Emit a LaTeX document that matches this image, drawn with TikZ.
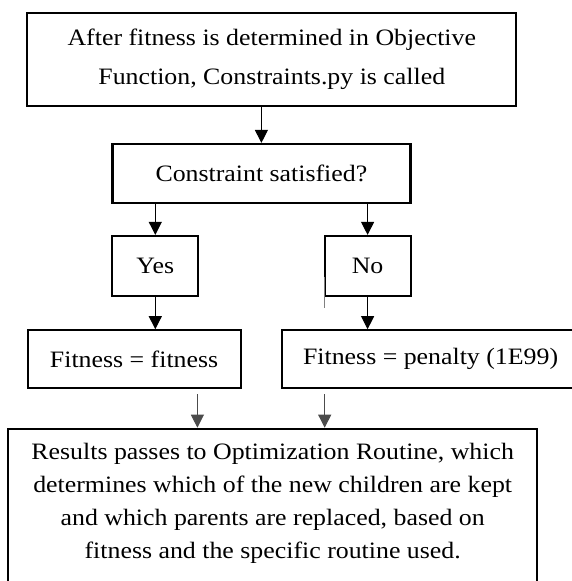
\documentclass[tikz,border=0pt]{standalone}
\usepackage{fontspec}
\setmainfont[FakeStretch=1.1]{Liberation Serif}
\usetikzlibrary{arrows.meta,positioning}
\begin{document}
\begin{tikzpicture}[x=1pt,y=-1pt,
				box/.style={rectangle,draw,line width=2.2pt,align=center,inner sep=0pt,
					font=\fontsize{23.5}{33}\selectfont},
				arr/.style={line width=1pt,-{Triangle[width=13pt,length=13pt]}}]
\useasboundingbox (0,0) rectangle (572,581);
\clip (0,0) rectangle (572,581);
\node[box,minimum width=489,minimum height=93,font=\fontsize{23.5}{39}\selectfont] (start) at (271.8,59.4)
	{After fitness is determined in Objective\\Function, Constraints.py is called};
\node[box,minimum width=298,minimum height=59] (check) at (261.4,173.5) {Constraint satisfied?};
\node[box,minimum width=86,minimum height=60] (yes) at (155.3,266) {Yes};
\node[box,minimum width=86,minimum height=60] (no) at (367.6,266) {No};
\node[box,minimum width=213,minimum height=58] (keep) at (134.1,359.3) {Fitness = fitness};
\node[box,minimum width=298,minimum height=58] (penal) at (430.6,359.3) {Fitness = penalty (1E99)};
\node[box,minimum width=529,minimum height=200,anchor=north] (final) at (272.7,427.7) {};
\node[box,draw=none] (finaltxt) at (272.7,503)
	{Results passes to Optimization Routine, which\\determines which of the new children are kept\\and which parents are replaced, based on\\fitness and the specific routine used.};
\coordinate (keepout) at (197.4,394);
\coordinate (penalout) at (324.7,394);
\draw[arr] (start.south -| check) -- (check);
\draw[arr] (check.south -| yes) -- (yes);
\draw[arr] (check.south -| no) -- (no);
\draw[arr] (yes) -- (keep.north -| yes);
\draw[arr] (no) -- (penal.north -| no);
\draw[arr,black!70] (keepout) -- (keepout |- final.north);
\draw[arr,black!70] (penalout) -- (penalout |- final.north);
% stray mark beside No
\draw[black!50,line width=1pt] (324.7,277) -- (324.7,308);
\end{tikzpicture}
\end{document}
